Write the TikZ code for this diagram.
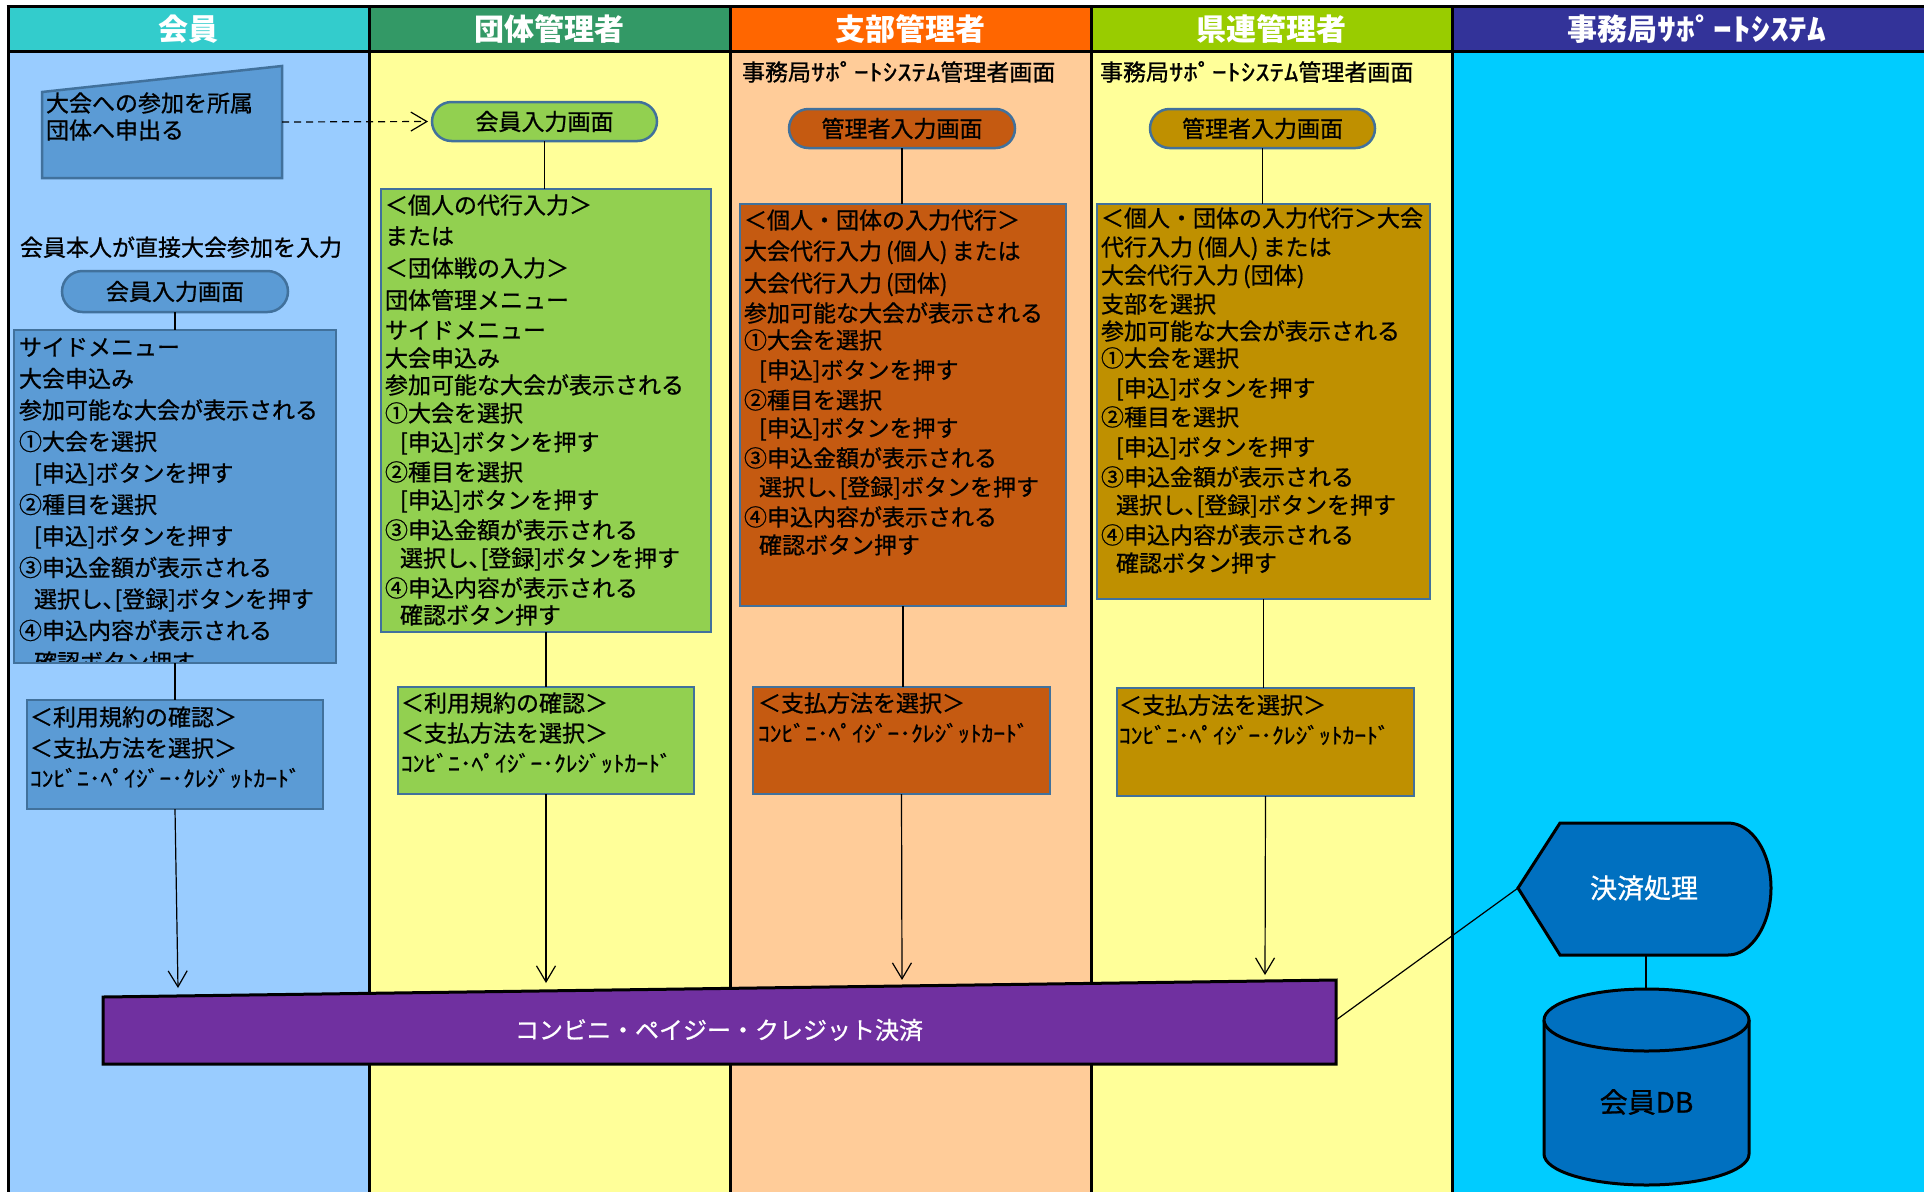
\documentclass[tikz,border=0pt]{standalone}
\usepackage{fontspec}
\setmainfont{Noto Sans CJK JP}[FakeBold=0.8]
\newfontfamily\hdfont{Noto Sans CJK JP}
\usetikzlibrary{arrows.meta,shapes.misc}
\definecolor{hdA}{HTML}{33CCCC}
\definecolor{hdB}{HTML}{339966}
\definecolor{hdC}{HTML}{FF6600}
\definecolor{hdD}{HTML}{99CC00}
\definecolor{hdE}{HTML}{333399}
\definecolor{lnA}{HTML}{99CCFF}
\definecolor{lnB}{HTML}{FFFF99}
\definecolor{lnC}{HTML}{FFCC99}
\definecolor{lnE}{HTML}{00CCFF}
\definecolor{fA}{HTML}{5B9BD5}
\definecolor{fB}{HTML}{92D050}
\definecolor{fC}{HTML}{C55A11}
\definecolor{fD}{HTML}{BF9000}
\definecolor{bdr}{HTML}{41719C}
\definecolor{bandc}{HTML}{7030A0}
\definecolor{sysb}{HTML}{0070C0}
\newcommand\fsz[1]{\fontsize{#1pt}{#1pt}\selectfont}
\newcommand\myind{\hspace*{15pt}}
\newcommand\hw[1]{\scalebox{1.25}[1]{#1}}
\newcommand\card{\scalebox{1.07}[1]{ｺﾝﾋﾞﾆ･ﾍﾟｲｼﾞｰ･ｸﾚｼﾞｯﾄｶｰﾄﾞ}}
\newcommand\kojin{\hspace*{4pt}(個人)\hspace*{4pt}}
\newcommand\dantai{\hspace*{4pt}(団体)}
\newcommand\mylines[3]{\foreach \ya/\tx [count=\i] in {#3} {\node[txt] (#1-\i) at (#2,\ya+8.7) {\tx};}}
\begin{document}
\begin{tikzpicture}[x=1pt,y=-1pt,
 txt/.style={anchor=base west,inner sep=0pt,outer sep=0pt,font=\fsz{23},text=black},
 cardtxt/.style={txt,font=\fsz{22}},
 hdtxt/.style={inner sep=0pt,font=\hdfont\fsz{30}\bfseries,text=white},
 sep/.style={line width=3pt,black},
 boxs/.style={rectangle,draw=bdr,line width=2.5pt,inner sep=0pt,outer sep=0pt,anchor=north west},
 term/.style={rounded rectangle,draw=bdr,line width=2.5pt,inner sep=0pt,outer sep=0pt,font=\fsz{23}},
 conn/.style={line width=1.2pt,black},
 arr/.style={conn,-{Straight Barb[length=16pt,width=19pt]}},
 dasharr/.style={conn,dash pattern=on 7pt off 5pt,-{Straight Barb[length=16pt,width=19pt]},shorten >=4pt},
 sysshape/.style={fill=sysb,draw=black,line width=3pt,line join=miter},
]
\useasboundingbox (0,0) rectangle (1924,1192);
\fill[white] (0,0) rectangle (1924,1192);
% headers
\fill[hdA] (8,6) rectangle (369,51);
\fill[hdB] (369,6) rectangle (730,51);
\fill[hdC] (730,6) rectangle (1091,51);
\fill[hdD] (1091,6) rectangle (1452,51);
\fill[hdE] (1452,6) rectangle (1924,51);
% lanes
\fill[lnA] (8,51) rectangle (369,1192);
\fill[lnB] (369,51) rectangle (730,1192);
\fill[lnC] (730,51) rectangle (1091,1192);
\fill[lnB] (1091,51) rectangle (1452,1192);
\fill[lnE] (1452,51) rectangle (1924,1192);
\draw[sep] (6.5,6) -- (1924,6);
\draw[sep] (8,51) -- (1924,51);
\foreach \xx in {8,369,730,1091,1452} \draw[sep] (\xx,6) -- (\xx,1192);
\node[hdtxt] (h1) at (188.5,29) {会員};
\node[hdtxt] (h2) at (549.5,29) {団体管理者};
\node[hdtxt] (h3) at (910.5,29) {支部管理者};
\node[hdtxt] (h4) at (1271.5,29) {県連管理者};
\node[hdtxt] (h5) at (1697,29) {事務局\hw{ｻﾎﾟｰﾄｼｽﾃﾑ}};

% lane 1
\draw[fill=fA,draw=bdr,line width=2.5pt] (42,92) -- (282,66) -- (282,178) -- (42,178) -- cycle;
\coordinate (trapR) at (282,122);
\mylines{tq}{46}{103/大会への参加を所属,130/団体へ申出る}
\node[txt] (direct) at (20,256) {会員本人が直接大会参加を入力};
\node[term,fill=fA,minimum width=226pt,minimum height=41pt] (s1) at (175,291.5) {会員入力画面};
\node[boxs,fill=fA,minimum width=322pt,minimum height=333pt] (b1) at (14,330) {};
\begin{scope}
\clip (15.3,331.3) rectangle (334.7,661.7);
\mylines{tb1}{19}{347/サイドメニュー,378.5/大会申込み,410/参加可能な大会が表示される,441.5/①大会を選択,473/\myind[申込]ボタンを押す,504.5/②種目を選択,536/\myind[申込]ボタンを押す,567.5/③申込金額が表示される,599/\myind 選択し､[登録]ボタンを押す,630.5/④申込内容が表示される,662/\myind 確認ボタン押す}
\end{scope}
\node[boxs,fill=fA,minimum width=296pt,minimum height=109pt] (p1) at (27,700) {};
\mylines{tp1}{30}{717/＜利用規約の確認＞,748/＜支払方法を選択＞}
\node[cardtxt] (tp1c) at (30,786.7) {\card};

% lane 2
\node[term,fill=fB,minimum width=225pt,minimum height=39pt] (s2) at (544.5,121.5) {会員入力画面};
\node[boxs,fill=fB,minimum width=330pt,minimum height=443pt] (b2) at (381,189) {};
\mylines{tb2}{385}{205/＜個人の代行入力＞,236/または,268/＜団体戦の入力＞,300/団体管理メニュー,330/サイドメニュー,358/大会申込み,385/参加可能な大会が表示される,413/①大会を選択,442/\myind[申込]ボタンを押す,472/②種目を選択,500/\myind[申込]ボタンを押す,530/③申込金額が表示される,558/\myind 選択し､[登録]ボタンを押す,588/④申込内容が表示される,615/\myind 確認ボタン押す}
\node[boxs,fill=fB,minimum width=296pt,minimum height=107pt] (p2) at (398,687) {};
\mylines{tp2}{401}{703/＜利用規約の確認＞,733/＜支払方法を選択＞}
\node[cardtxt] (tp2c) at (401,771.7) {\card};

% lane 3
\node[txt] (sub3) at (742,80.7) {事務局\hw{ｻﾎﾟｰﾄｼｽﾃﾑ}管理者画面};
\node[term,fill=fC,minimum width=226pt,minimum height=39pt] (s3) at (902,128.5) {管理者入力画面};
\node[boxs,fill=fC,minimum width=326pt,minimum height=402pt] (b3) at (740,204) {};
\mylines{tb3}{744}{220/＜個人・団体の入力代行＞,251/大会代行入力\kojin または,283/大会代行入力\dantai,313/参加可能な大会が表示される,340/①大会を選択,370/\myind[申込]ボタンを押す,400/②種目を選択,428/\myind[申込]ボタンを押す,458/③申込金額が表示される,487/\myind 選択し､[登録]ボタンを押す,517/④申込内容が表示される,545/\myind 確認ボタン押す}
\node[boxs,fill=fC,minimum width=297pt,minimum height=107pt] (p3) at (753,687) {};
\node[txt] (tp3) at (758,711.7) {＜支払方法を選択＞};
\node[cardtxt] (tp3c) at (758,741.7) {\card};

% lane 4
\node[txt] (sub4) at (1100,80.7) {事務局\hw{ｻﾎﾟｰﾄｼｽﾃﾑ}管理者画面};
\node[term,fill=fD,minimum width=225pt,minimum height=39pt] (s4) at (1262.5,128.5) {管理者入力画面};
\node[boxs,fill=fD,minimum width=333pt,minimum height=395pt] (b4) at (1097,204) {};
\mylines{tb4}{1101}{218/＜個人・団体の入力代行＞大会,247/代行入力\kojin または,275/大会代行入力\dantai,304/支部を選択,331/参加可能な大会が表示される,358/①大会を選択,388/\myind[申込]ボタンを押す,417/②種目を選択,447/\myind[申込]ボタンを押す,477/③申込金額が表示される,505/\myind 選択し､[登録]ボタンを押す,535/④申込内容が表示される,563/\myind 確認ボタン押す}
\node[boxs,fill=fD,minimum width=297pt,minimum height=108pt] (p4) at (1117,688) {};
\node[txt] (tp4) at (1119,713.7) {＜支払方法を選択＞};
\node[cardtxt] (tp4c) at (1119,743.7) {\card};

% connectors
\draw[dasharr] (trapR) -- (s2.west);
\draw[conn] (s1.south) -- (s1.south |- b1.north);
\draw[conn] (b1.south) -- (b1.south |- p1.north);
\draw[conn] (s2.south) -- (s2.south |- b2.north);
\draw[conn] (b2.south) -- (b2.south |- p2.north);
\draw[conn] (s3.south) -- (s3.south |- b3.north);
\draw[conn] (b3.south) -- (b3.south |- p3.north);
\draw[conn] (s4.south) -- (s4.south |- b4.north);
\draw[conn] (b4.south) -- (b4.south |- p4.north);

% band
\coordinate (a1) at (178,988);
\coordinate (a2) at (546,983);
\coordinate (a3) at (902,980);
\coordinate (a4) at (1265,975);
\coordinate (bandR) at (1336,1020);
\draw[arr] (p1.south) -- (a1);
\draw[arr] (p2.south) -- (a2);
\draw[arr] (p3.south) -- (a3);
\draw[arr] (p4.south) -- (a4);
\draw[fill=bandc,draw=black,line width=3pt,line join=miter] (103,997) -- (1336,980) -- (1336,1064) -- (103,1064) -- cycle;
\node[font=\fsz{24},text=white,inner sep=0pt] (bandtxt) at (719,1030) {コンビニ・ペイジー・クレジット決済};

% system lane
\coordinate (dispL) at (1518,888);
\coordinate (dispB) at (1646,955);
\coordinate (dbT) at (1646,989);
\draw[conn] (bandR) -- (dispL);
\draw[conn] (dispB) -- (dbT);
\draw[sysshape] (1518,888) -- (1560,823) -- (1728,823) .. controls (1751.7,823) and (1771,852.1) .. (1771,888) .. controls (1771,923.9) and (1751.7,955) .. (1728,955) -- (1560,955) -- cycle;
\node[font=\fsz{27},text=white,inner sep=0pt] (disp) at (1644,888) {決済処理};
\path[sysshape] (1544,1020) -- (1544,1154) .. controls (1544,1171.1) and (1589.9,1185) .. (1646.5,1185) .. controls (1703.1,1185) and (1749,1171.1) .. (1749,1154) -- (1749,1020);
\draw[sysshape] (1646.5,1020) ellipse [x radius=102.5, y radius=31];
\node[font=\fsz{28},text=black,inner sep=0pt] (db) at (1646.5,1102) {会員DB};
\end{tikzpicture}
\end{document}
